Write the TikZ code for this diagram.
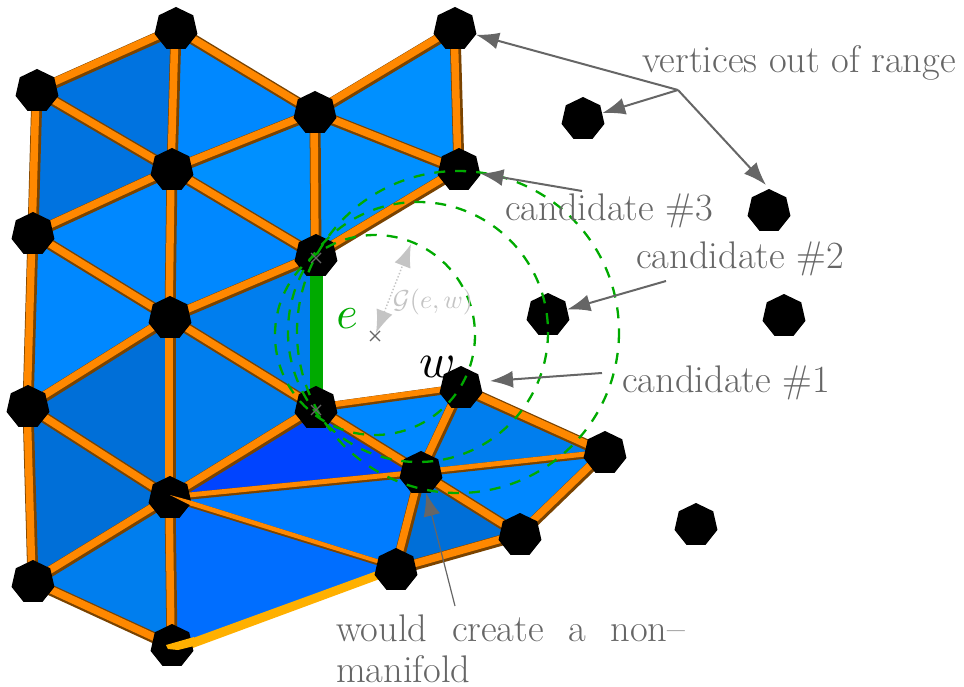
\documentclass[tikz,border=0pt]{standalone}
\usepackage{fontspec}
\usepackage{graphicx}
\usetikzlibrary{shapes.geometric,arrows.meta,calc}
\pgfdeclarelayer{tri}
\pgfdeclarelayer{edge}
\pgfsetlayers{tri,edge,main}
\definecolor{fA}{HTML}{0073E0}
\definecolor{fB}{HTML}{0088FF}
\definecolor{fC}{HTML}{0090FF}
\definecolor{fD}{HTML}{007EEE}
\definecolor{fE}{HTML}{006FD8}
\definecolor{fF}{HTML}{0044FF}
\definecolor{fG}{HTML}{007CFF}
\definecolor{fH}{HTML}{006EFF}
\definecolor{edgeO}{HTML}{FF8800}
\definecolor{edgeB}{HTML}{7A4300}
\definecolor{gold}{HTML}{FFB000}
\definecolor{grn}{HTML}{00AA00}
\definecolor{anno}{HTML}{666666}
\definecolor{lgray}{HTML}{C4C4C4}
\tikzset{
  vert/.style={regular polygon,regular polygon sides=7,fill=black,draw=none,minimum size=44pt,inner sep=0pt},
  ring/.style={draw=grn,line width=2.3pt,dash pattern=on 11pt off 10pt},
  annoline/.style={draw=anno,line width=2pt},
  annoarrow/.style={annoline,-{Latex[length=23pt,width=17pt]}},
  annotext/.style={text=anno,inner sep=0pt,font=\fontsize{38.5}{41}\selectfont},
  cross/.style={draw=anno,line width=1.2pt},
}
\newcommand{\tri}[4]{\fill[#4] (#1.center) -- (#2.center) -- (#3.center) -- cycle;}
\newcommand{\edg}[3][1]{%
  \draw[edgeB,line width=#1*11pt] (#2.center) -- (#3.center);
  \draw[edgeO,line width=#1*7.5pt] ($(#2.center)+(-1,-1)$) -- ($(#3.center)+(-1,-1)$);}
\begin{document}
\begin{tikzpicture}[x=1pt,y=-1pt]
\useasboundingbox (0,0) rectangle (964,687);
\node[vert] (a) at (176,29) {};
\node[vert] (b) at (37,91) {};
\node[vert] (c) at (315,113) {};
\node[vert] (d) at (455,29) {};
\node[vert] (e) at (172,170) {};
\node[vert] (f) at (459,170) {};
\node[vert] (g) at (33,234) {};
\node[vert] (h) at (316,256) {};
\node[vert] (i) at (170,318) {};
\node[vert] (j) at (28,407) {};
\node[vert] (k) at (316,408) {};
\node[vert] (l) at (461,388) {};
\node[vert] (m) at (170,498) {};
\node[vert] (n) at (421,473) {};
\node[vert] (o) at (605,453) {};
\node[vert] (p) at (33,582) {};
\node[vert] (q) at (396,570) {};
\node[vert] (r) at (520,535) {};
\node[vert] (s) at (172,646) {};
\node[vert] (v1) at (583,119) {};
\node[vert] (v2) at (769,211) {};
\node[vert] (v3) at (548,315) {};
\node[vert] (v4) at (784,316) {};
\node[vert] (v5) at (696,525) {};
\begin{pgfonlayer}{tri}
\tri{a}{b}{e}{fA}\tri{b}{g}{e}{fA}\tri{a}{e}{c}{fB}\tri{c}{d}{f}{fC}\tri{c}{f}{h}{fC}
\tri{e}{c}{h}{fC}\tri{g}{e}{i}{fB}\tri{e}{h}{i}{fB}\tri{g}{i}{j}{fB}\tri{i}{h}{k}{fD}
\tri{i}{j}{m}{fE}\tri{i}{k}{m}{fD}\tri{j}{m}{p}{fE}\tri{m}{p}{s}{fD}\tri{m}{k}{n}{fF}
\tri{k}{l}{n}{fB}\tri{l}{n}{o}{fD}\tri{n}{o}{r}{fB}\tri{m}{n}{q}{fG}\tri{m}{q}{s}{fH}
\tri{n}{q}{r}{fE}
\end{pgfonlayer}
\begin{pgfonlayer}{edge}
\edg{a}{b}\edg{a}{e}\edg{a}{c}\edg{b}{e}\edg{b}{g}\edg{e}{g}\edg{e}{c}\edg{e}{h}\edg{e}{i}
\edg{c}{d}\edg{c}{f}\edg{c}{h}\edg{d}{f}\edg{f}{h}\edg{g}{i}\edg{g}{j}\edg{h}{i}
\edg{i}{j}\edg{i}{k}\edg{i}{m}\edg{j}{m}\edg{j}{p}\edg{k}{m}\edg[0.75]{k}{l}\edg{k}{n}
\edg{l}{n}\edg{l}{o}\edg{n}{r}\edg{n}{q}\edg{o}{r}\edg{q}{r}\edg{m}{p}\edg{m}{s}\edg{p}{s}
\edg[0.65]{m}{n}\edg[0.65]{n}{o}
\fill[edgeB] ($(m.center)+(6,-2)$) -- ($(q.center)+(0,-5)$) -- ($(q.center)+(0,1)$) -- ($(m.center)+(6,5)$) -- cycle;
\fill[edgeO] ($(m.center)+(6,-2)$) -- ($(q.center)+(0,-5)$) -- ($(q.center)+(0,-1)$) -- ($(m.center)+(6,3)$) -- cycle;
\fill[gold] ($(s.center)+(10,-4)$) -- ($(q.center)+(0,-6)$) -- ($(q.center)+(0,3)$) -- ($(s.center)+(10,6)$) -- cycle;
\draw[grn,line width=13pt] (h.center) -- (k.center);
\end{pgfonlayer}
% ends of the tapered edges that show over the vertices
\fill[edgeO] ($(m.center)+(0,-3)$) -- ($(m.center)+(22,3)$) -- ($(m.center)+(22,8)$) -- cycle;
\fill[gold] ($(s.center)+(-6,-1)$) -- ($(s.center)+(22,-9)$) -- ($(s.center)+(22,0)$) -- ($(s.center)+(6,4)$) -- ($(s.center)+(-4,3)$) -- cycle;
% Delaunay rings
\coordinate (cA) at (375,335);
\coordinate (cB) at (418,332);
\coordinate (cC) at (458,332);
\draw[ring] (cA) circle[radius=100];
\draw[ring] (cB) circle[radius=130];
\draw[ring] (cC) circle[radius=161];
% labels
\node[text=grn,inner sep=0pt] (labE) at (347,319) {\scalebox{4.6}{$e$}};
\node[text=black,inner sep=0pt] (labW) at (438,367) {\scalebox{4.9}{$w$}};
\node[text=lgray,inner sep=0pt] (labG) at (433,302) {\scalebox{2.6}{$\mathcal{G}(e,w)$}};
% crosses
\foreach \nm/\px/\py in {xA/375/336,xB/316/258,xC/316/410}{
  \coordinate (\nm) at (\px,\py);
  \draw[cross] ($(\nm)+(-5,-5)$) -- ($(\nm)+(5,5)$) ($(\nm)+(-5,5)$) -- ($(\nm)+(5,-5)$);
}
% radius arrow
\coordinate (gA) at (376,333);
\coordinate (gB) at (411,244);
\draw[lgray,line width=1.4pt,dotted,{Latex[length=23pt,width=17pt]}-{Latex[length=23pt,width=17pt]}] (gA) -- (gB);
% annotations
\node[annotext] (tR) at (799,63) {vertices out of range};
\node[annotext] (t3) at (609,211) {candidate \#3};
\node[annotext] (t2) at (740,259) {candidate \#2};
\node[annotext] (t1) at (726,383) {candidate \#1};
\node[annotext,anchor=north west,align=left] (tN) at (336,615) {\makebox[349pt][s]{would create a non--}\\manifold};
\coordinate (jR) at (678,90);
\coordinate (eV2) at (766,185);
\coordinate (s3) at (582,191);
\coordinate (s2) at (666,281);
\coordinate (s1) at (602,373);
\coordinate (eL) at (490,381);
\coordinate (sN) at (455,606);
\draw[annoarrow] (jR) -- (d);
\draw[annoarrow] (jR) -- (v1);
\draw[annoarrow] (jR) -- (eV2);
\draw[annoarrow] (s3) -- (f);
\draw[annoarrow] (s2) -- (v3);
\draw[annoarrow] (s1) -- (eL);
\draw[annoarrow,line width=1.2pt] (sN) -- (n);
\end{tikzpicture}
\end{document}
